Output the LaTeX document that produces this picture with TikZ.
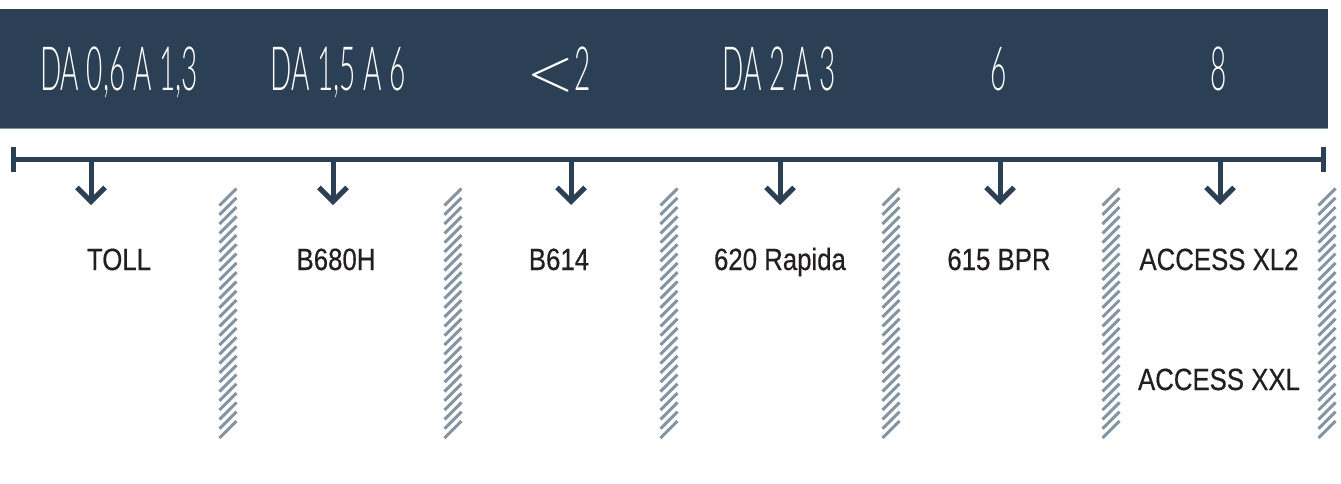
\RequirePackage{fix-cm}
\documentclass[tikz,border=0pt]{standalone}
\usepackage{fontspec}
\setmainfont{Liberation Sans}
\newfontfamily\labelfont{Liberation Sans}[FakeStretch=0.84, FakeBold=0.5]
\newfontfamily\barfont{Lato Light}[FakeStretch=0.46]
\usetikzlibrary{arrows.meta}
\definecolor{navy}{HTML}{2B4055}
\definecolor{hatch}{HTML}{8494A2}
\definecolor{ink}{HTML}{231F20}

\begin{document}
\begin{tikzpicture}[x=1pt, y=-1pt,
	barlabel/.style={text=white, font=\barfont\fontsize{61}{61}\selectfont, anchor=base, inner sep=0pt},
	model/.style={text=ink, font=\labelfont\fontsize{30.7}{34}\selectfont, anchor=base, inner sep=0pt},
	drop/.style={navy, line width=5pt, -{Straight Barb[length=14pt, width=28pt]}},
	stripe/.style={hatch, line width=3pt}]
	\useasboundingbox (0,0) rectangle (1341,483);
	\fill[navy] (0,9) rectangle (1328,128);
	\draw[hatch, line width=1pt] (0,128) -- (1328,128);
	\node[barlabel] (r1) at (119,90) {DA 0,6 A 1,3};
	\node[barlabel] (r2) at (338,90) {DA 1,5 A 6};
	\node[barlabel] (r3) at (559,90) {$<$2};
	\node[barlabel] (r4) at (779,90) {DA 2 A 3};
	\node[barlabel] (r5) at (999,90) {6};
	\node[barlabel] (r6) at (1219,90) {8};
	\coordinate (tl-start) at (11,159);
	\coordinate (tl-end) at (1326,159);
	\draw[navy, line width=5pt, {Bar[width=25pt]}-{Bar[width=25pt]}] (tl-start) -- (tl-end);
	\foreach \x [count=\i] in {91,333,571,780,1000,1220} {
		\coordinate (top-\i) at (\x,159);
		\coordinate (tip-\i) at (\x,205);
		\draw[drop] (top-\i) -- (tip-\i);
	}
	\foreach \x in {228,453,669,891,1111,1327} {
		\foreach \k in {0,...,25}
			\draw[stripe] (\x-8.5, 438-9.3*\k) -- (\x+8.5, 421-9.3*\k);
	}
	\node[model] (m1) at (119,270) {TOLL};
	\node[model] (m2) at (336,270) {B680H};
	\node[model] (m3) at (559,270) {B614};
	\node[model] (m4) at (780,270) {620 Rapida};
	\node[model] (m5) at (999,270) {615 BPR};
	\node[model] (m6a) at (1219,270) {ACCESS XL2};
	\node[model] (m6b) at (1219,390) {ACCESS XXL};
\end{tikzpicture}
\end{document}
